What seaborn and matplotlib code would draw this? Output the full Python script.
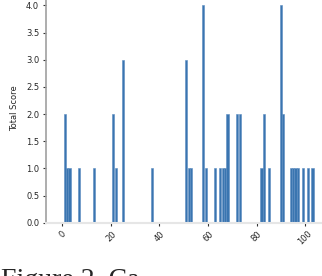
import matplotlib
matplotlib.use("Agg")
import matplotlib.pyplot as plt
import seaborn as sns

# item index and its total score
item_ids = [1, 2, 3, 7, 13, 21, 22, 25, 37, 51, 52, 53, 58, 59, 63, 65, 66,
            67, 68, 72, 73, 82, 83, 85, 90, 91, 94, 95, 96, 97, 99, 101, 103]
total_scores = [2, 1, 1, 1, 1, 2, 1, 3, 1, 3, 1, 1, 4, 1, 1, 1, 1,
                1, 2, 2, 2, 1, 2, 1, 4, 2, 1, 1, 1, 1, 1, 1, 1]

x_ticks = [0, 20, 40, 60, 80, 100]
y_ticks = [0.0, 0.5, 1.0, 1.5, 2.0, 2.5, 3.0, 3.5, 4.0]

sns.set_style("ticks")
plt.rcParams["font.family"] = ["DejaVu Sans"]

fig = plt.figure(figsize=(3.22, 2.76), dpi=100)
ax = fig.add_axes([0.142, 0.193, 0.858, 0.827])

sns.barplot(
    x=item_ids,
    y=total_scores,
    native_scale=True,
    color="#3a75b0",
    saturation=1,
    width=0.9,
    errorbar=None,
    linewidth=0.4,
    edgecolor="#5a8cc0",
    ax=ax,
)

ax.set_xlim(-6.8, 106.9)
ax.set_ylim(0, 4.2)
ax.set_xticks(x_ticks)
ax.set_yticks(y_ticks)
ax.set_xticklabels([str(t) for t in x_ticks], rotation=45, fontsize=6)
ax.set_yticklabels([f"{t:.1f}" for t in y_ticks], fontsize=6)
ax.set_ylabel("Total Score", fontsize=6, labelpad=5)
ax.set_xlabel("")
ax.tick_params(axis="both", length=2.2, width=0.8, pad=2.5, color="#333333")

for side in ["top", "right"]:
    ax.spines[side].set_visible(False)
ax.spines["left"].set_color("#a0a0a0")
ax.spines["left"].set_linewidth(1.2)
ax.spines["bottom"].set_color("#e6e6e6")
ax.spines["bottom"].set_linewidth(1.5)

# the caption of the page, cut off by the crop as in the source
fig.text(0.003, -0.04, "Figure 2. Ca", family="Liberation Serif", fontsize=20,
         va="baseline", ha="left")

fig.savefig("out.png", dpi=100)
